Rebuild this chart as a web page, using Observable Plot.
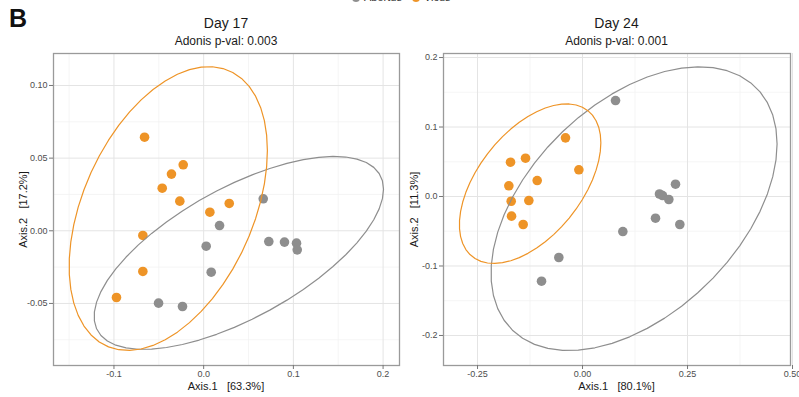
<!DOCTYPE html>
<html>
<head>
<meta charset="utf-8">
<script src="https://cdn.jsdelivr.net/npm/d3@7"></script>
<script src="https://cdn.jsdelivr.net/npm/@observablehq/plot@0.6"></script>
<style>
  html, body { margin: 0; padding: 0; background: #fff; }
  body { width: 799px; height: 397px; position: relative; overflow: hidden;
         font-family: "Liberation Sans", Arial, Helvetica, sans-serif; color: #1a1a1a; }
  .abs { position: absolute; white-space: pre; }
  .panel { position: absolute; top: 0; }
  .title { font-size: 14px; line-height: 14px; text-align: center; color: #1a1a1a; }
  .sub { font-size: 12px; line-height: 12px; text-align: center; color: #1a1a1a; }
  .axt { font-size: 11px; line-height: 11px; text-align: center; color: #1a1a1a; }
  .ylab { width: 200px; transform: rotate(-90deg); transform-origin: 100px 5.5px; }
  .leg { font-size: 11px; line-height: 11px; color: #333; display: flex; align-items: center; gap: 4px; }
  .sw { width: 8px; height: 8px; border-radius: 50%; display: inline-block; }
</style>
</head>
<body>
<div class="abs" style="left:9px; top:6px; font-size:25px; line-height:25px; font-weight:bold; color:#111;">B</div>
<div id="legend" class="abs leg" style="left:352px; top:-8px;"></div>

<div class="abs title" style="left:53px; width:346px; top:16px;">Day 17</div>
<div class="abs sub" style="left:53px; width:346px; top:35px;">Adonis p-val: 0.003</div>
<div class="abs title" style="left:443px; width:347px; top:16px;">Day 24</div>
<div class="abs sub" style="left:443px; width:347px; top:35px;">Adonis p-val: 0.001</div>

<div class="abs axt" style="left:53px; width:346px; top:381px;">Axis.1   [63.3%]</div>
<div class="abs axt" style="left:443px; width:347px; top:381px;">Axis.1   [80.1%]</div>
<div class="abs axt ylab" style="left:-77px; top:203.5px;">Axis.2   [17.2%]</div>
<div class="abs axt ylab" style="left:314px; top:203.5px;">Axis.2   [11.3%]</div>

<div id="p17" class="panel" style="left:0px;"></div>
<div id="p24" class="panel" style="left:400px;"></div>

<script>
// ---- groups / legend ----
const groups = ["Abortus", "Vicus"];
const groupColors = ["#8e8e8e", "#EE9427"];

// ---- Day 17 ordination coordinates ----
const d17VicusX = [-0.0659, -0.0228, -0.0359, -0.0462, -0.0266, 0.0069, 0.0285, -0.0678, -0.0678, -0.0972];
const d17VicusY = [0.0644, 0.0454, 0.0390, 0.0293, 0.0204, 0.0128, 0.0188, -0.0032, -0.0280, -0.0459];
const d17AbortusX = [0.0664, 0.0177, 0.0028, 0.0726, 0.0901, 0.1035, 0.1043, 0.0084, -0.0503, -0.0236];
const d17AbortusY = [0.0220, 0.0036, -0.0106, -0.0074, -0.0078, -0.0085, -0.0131, -0.0285, -0.0498, -0.0521];

// ---- Day 24 ordination coordinates ----
const d24VicusX = [-0.1714, -0.1357, -0.1754, -0.1079, -0.0405, -0.0087, -0.1698, -0.1278, -0.1690, -0.1413];
const d24VicusY = [0.0494, 0.0551, 0.0154, 0.0230, 0.0844, 0.0384, -0.0068, -0.0058, -0.0283, -0.0403];
const d24AbortusX = [0.0786, 0.1833, 0.1905, 0.2055, 0.2214, 0.1738, 0.2317, 0.0960, -0.0564, -0.0976];
const d24AbortusY = [0.1381, 0.0036, 0.0014, -0.0043, 0.0177, -0.0312, -0.0403, -0.0504, -0.0878, -0.1219];

// ---- axes ----
const d17XTicks = [-0.1, 0.0, 0.1, 0.2];
const d17XLabels = ["-0.1", "0.0", "0.1", "0.2"];
const d17XMinor = [-0.15, -0.05, 0.05, 0.15];
const d17YTicks = [-0.05, 0.0, 0.05, 0.10];
const d17YLabels = ["-0.05", "0.00", "0.05", "0.10"];
const d17YMinor = [-0.075, -0.025, 0.025, 0.075];
const d17XDomain = [-0.1674, 0.2183];
const d17YDomain = [-0.0927, 0.1220];

const d24XTicks = [-0.25, 0.0, 0.25, 0.5];
const d24XLabels = ["-0.25", "0.00", "0.25", "0.50"];
const d24XMinor = [-0.125, 0.125, 0.375];
const d24YTicks = [-0.2, -0.1, 0.0, 0.1, 0.2];
const d24YLabels = ["-0.2", "-0.1", "0.0", "0.1", "0.2"];
const d24YMinor = [-0.15, -0.05, 0.05, 0.15];
const d24XDomain = [-0.331, 0.4952];
const d24YDomain = [-0.2432, 0.2058];

// legend
document.getElementById("legend").innerHTML = groups.map((g, i) =>
  `<span class="sw" style="background:${groupColors[i]}"></span><span style="margin-right:6px">${g}</span>`).join("");

// classical covariance (stat_ellipse type = "norm")
function covNorm(xs, ys) {
  const n = xs.length;
  const mx = d3.mean(xs), my = d3.mean(ys);
  let s11 = 0, s12 = 0, s22 = 0;
  xs.forEach((x, i) => { const u = x - mx, v = ys[i] - my; s11 += u * u; s12 += u * v; s22 += v * v; });
  return { center: [mx, my], cov: [s11 / (n - 1), s12 / (n - 1), s22 / (n - 1)] };
}

function statEllipse(xs, ys, group, level = 0.95, segments = 51) {
  const n = xs.length, dfd = n - 1;
  const qf = (dfd / 2) * (Math.pow(1 - level, -2 / dfd) - 1); // F(2, dfd) quantile
  const radius = Math.sqrt(2 * qf);
  const { center, cov } = covNorm(xs, ys);
  const u11 = Math.sqrt(cov[0]), u12 = cov[1] / u11, u22 = Math.sqrt(cov[2] - u12 * u12);
  return d3.range(segments + 1).map(k => {
    const t = k * 2 * Math.PI / segments;
    return { x: center[0] + radius * Math.cos(t) * u11,
             y: center[1] + radius * (Math.cos(t) * u12 + Math.sin(t) * u22), group };
  });
}

function pts(xs, ys, group) { return xs.map((x, i) => ({ x, y: ys[i], group })); }

function panel(opts) {
  const points = [...pts(opts.ax, opts.ay, groups[0]), ...pts(opts.vx, opts.vy, groups[1])];
  const ell = [...statEllipse(opts.ax, opts.ay, groups[0]), ...statEllipse(opts.vx, opts.vy, groups[1])];
  return Plot.plot({
    width: opts.width, height: 397,
    marginLeft: opts.ml, marginRight: opts.mr, marginTop: 53, marginBottom: 32,
    style: { fontFamily: "Liberation Sans, Arial, sans-serif", background: "transparent", overflow: "visible" },
    x: { domain: opts.xd },
    y: { domain: opts.yd },
    color: { domain: groups, range: groupColors },
    marks: [
      Plot.ruleX(opts.xMinor, { stroke: "#f1f1f1", strokeWidth: 0.7 }),
      Plot.ruleY(opts.yMinor, { stroke: "#f1f1f1", strokeWidth: 0.7 }),
      Plot.ruleX(opts.xTicks, { stroke: "#e4e4e4", strokeWidth: 1 }),
      Plot.ruleY(opts.yTicks, { stroke: "#e4e4e4", strokeWidth: 1 }),
      Plot.dot(points, { x: "x", y: "y", fill: "group", r: 4.8, stroke: "none" }),
      Plot.line(ell, { x: "x", y: "y", z: "group", stroke: "group", strokeWidth: 1.2, curve: "linear" }),
      Plot.frame({ stroke: "#9a9a9a", strokeWidth: 1.3 }),
      Plot.axisX(opts.xTicks, { tickFormat: d => opts.xLabels[opts.xTicks.indexOf(d)], tickSize: 4, tickPadding: 1,
        fontSize: 9, stroke: "#777", fill: "#4d4d4d", label: null }),
      Plot.axisY(opts.yTicks, { tickFormat: d => opts.yLabels[opts.yTicks.indexOf(d)], tickSize: 4, tickPadding: 2,
        fontSize: 9, stroke: "#777", fill: "#4d4d4d", label: null })
    ]
  });
}

document.getElementById("p17").append(panel({
  width: 400, ml: 53, mr: 1,
  ax: d17AbortusX, ay: d17AbortusY, vx: d17VicusX, vy: d17VicusY,
  xd: d17XDomain, yd: d17YDomain,
  xTicks: d17XTicks, xLabels: d17XLabels, xMinor: d17XMinor,
  yTicks: d17YTicks, yLabels: d17YLabels, yMinor: d17YMinor
}));
document.getElementById("p24").append(panel({
  width: 399, ml: 43, mr: 9,
  ax: d24AbortusX, ay: d24AbortusY, vx: d24VicusX, vy: d24VicusY,
  xd: d24XDomain, yd: d24YDomain,
  xTicks: d24XTicks, xLabels: d24XLabels, xMinor: d24XMinor,
  yTicks: d24YTicks, yLabels: d24YLabels, yMinor: d24YMinor
}));
</script>
</body>
</html>
